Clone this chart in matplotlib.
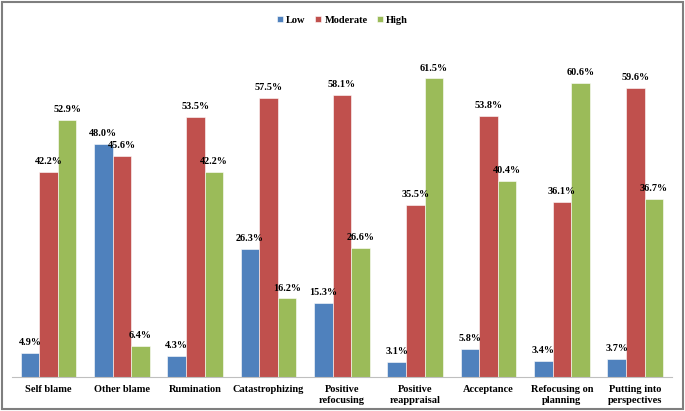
import matplotlib.pyplot as plt
import numpy as np
from matplotlib.patches import Rectangle

categories = ['Self blame', 'Other blame', 'Rumination', 'Catastrophizing',
              'Positive\nrefocusing', 'Positive\nreappraisal', 'Acceptance',
              'Refocusing on\nplanning', 'Putting into\nperspectives']
low = [4.9, 48.0, 4.3, 26.3, 15.3, 3.1, 5.8, 3.4, 3.7]
moderate = [42.2, 45.6, 53.5, 57.5, 58.1, 35.5, 53.8, 36.1, 59.6]
high = [52.9, 6.4, 42.2, 16.2, 26.6, 61.5, 40.4, 60.6, 36.7]

series = [('Low', low, '#4F81BD'),
          ('Moderate', moderate, '#C0504D'),
          ('High', high, '#9BBB59')]

plt.rcParams['font.family'] = ['Liberation Serif', 'DejaVu Serif']
plt.rcParams['font.weight'] = 'bold'

fig = plt.figure(figsize=(6.85, 4.11), dpi=100)
ax = fig.add_axes([0.0175, 0.0827, 0.9635, 0.827])

x = np.arange(len(categories))
w = 0.253
for i, (name, vals, color) in enumerate(series):
    pos = x + (i - 1) * w
    bars = ax.bar(pos, vals, width=w, color=color, edgecolor='white',
                  linewidth=0.4, label=name)
    for b, v in zip(bars, vals):
        ax.text(b.get_x() + b.get_width() / 2, v + 1.2, f'{v:.1f}%',
                ha='center', va='bottom', fontsize=7.3, fontweight='bold')

ax.set_xlim(-0.5, len(categories) - 0.5)
ax.set_ylim(0, 70)
ax.set_yticks([])
ax.set_xticks(x)
ax.set_xticklabels(categories, fontsize=7.5, fontweight='bold', linespacing=1.3)
ax.tick_params(axis='x', length=0, pad=6)
for s in ['top', 'right', 'left']:
    ax.spines[s].set_visible(False)
ax.spines['bottom'].set_color('#BFBFBF')
ax.spines['bottom'].set_linewidth(0.8)

leg = fig.legend(loc='upper center', bbox_to_anchor=(0.5, 0.985), ncol=3,
                 frameon=False, fontsize=7.5, handlelength=0.6, handleheight=0.6,
                 handletextpad=0.3, columnspacing=0.9)

fig.patches.append(Rectangle((0.003, 0.004), 0.994, 0.992, transform=fig.transFigure,
                             fill=False, edgecolor='#7F7F7F', linewidth=1.5))

fig.savefig('out.png', dpi=100)
